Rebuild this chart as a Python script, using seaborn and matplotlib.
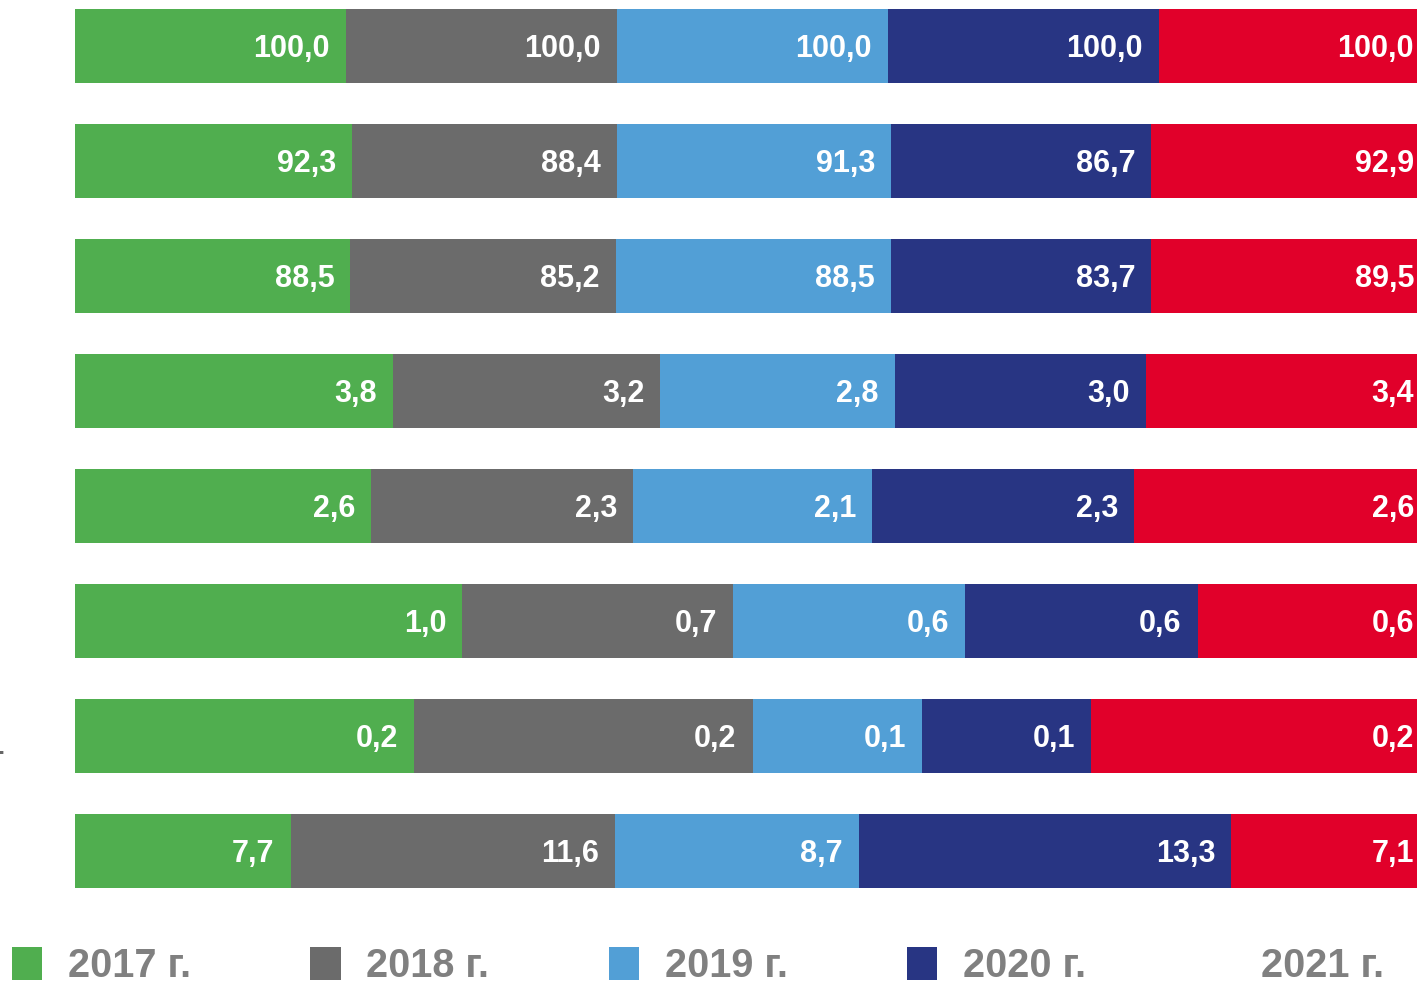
import numpy as np
import pandas as pd
import seaborn as sns
import matplotlib.pyplot as plt
from matplotlib.patches import Patch

# --- data, one list per year ---
rows = ["r1", "r2", "r3", "r4", "r5", "r6", "r7", "r8"]
years = ["2017 г.", "2018 г.", "2019 г.", "2020 г.", "2021 г."]
v2017 = [100.0, 92.3, 88.5, 3.8, 2.6, 1.0, 0.2, 7.7]
v2018 = [100.0, 88.4, 85.2, 3.2, 2.3, 0.7, 0.2, 11.6]
v2019 = [100.0, 91.3, 88.5, 2.8, 2.1, 0.6, 0.1, 8.7]
v2020 = [100.0, 86.7, 83.7, 3.0, 2.3, 0.6, 0.1, 13.3]
v2021 = [100.0, 92.9, 89.5, 3.4, 2.6, 0.6, 0.2, 7.1]
colors = ["#50ae4f", "#6b6b6b", "#529fd6", "#283583", "#e1002a"]

vals = pd.DataFrame({y: v for y, v in zip(years, [v2017, v2018, v2019, v2020, v2021])}, index=rows)
# each row fills the full width: segment width = share of the row total
share = vals.div(vals.sum(axis=1), axis=0)
cum = share.cumsum(axis=1)

sns.set_theme(style="white")
plt.rcParams["font.family"] = ["Liberation Sans", "DejaVu Sans"]

fig = plt.figure(figsize=(14.17, 9.81), dpi=100)
W, H = 1417, 981
# axes runs a bit past the right edge of the picture (the original is cropped)
ax = fig.add_axes([75 / W, 1 - 908.5 / H, 1355 / W, 920 / H])

# draw cumulative bars from the last year back, so earlier years sit on top
for year, col in reversed(list(zip(years, colors))):
    d = pd.DataFrame({"row": rows, "end": cum[year].values})
    sns.barplot(data=d, x="end", y="row", orient="h", color=col,
                width=74 / 115, saturation=1, ax=ax, linewidth=0)

# value labels, right-aligned inside each segment
for year in years:
    for i, r in enumerate(rows):
        txt = f"{vals.loc[r, year]:.1f}".replace(".", ",")
        ax.annotate(txt, xy=(cum.loc[r, year], i), xytext=(-11.5, -2.2),
                    textcoords="offset points", ha="right", va="center",
                    color="white", fontsize=22, fontweight="bold")

ax.set_xlim(0, 1)
ax.set_ylim(7.5, -0.5)
ax.set_axis_off()

# small cropped mark on the far left
fig.text(-0.003, 1 - 752 / H, "-", color="#666666", fontsize=18,
         ha="left", va="center", fontweight="bold")

handles = [Patch(facecolor=c, edgecolor="none") for c in colors[:4]]
handles.append(Patch(facecolor="none", edgecolor="none"))
leg = fig.legend(handles, years, loc="lower left", ncol=5,
                 bbox_to_anchor=(12 / W, -0.004), frameon=False,
                 prop={"size": 28.5, "weight": "bold"},
                 handlelength=0.76, handleheight=0.9, handletextpad=0.65,
                 columnspacing=3.02, borderpad=0, borderaxespad=0)
for t in leg.get_texts():
    t.set_color("#808080")

plt.savefig("out.png", dpi=100)
